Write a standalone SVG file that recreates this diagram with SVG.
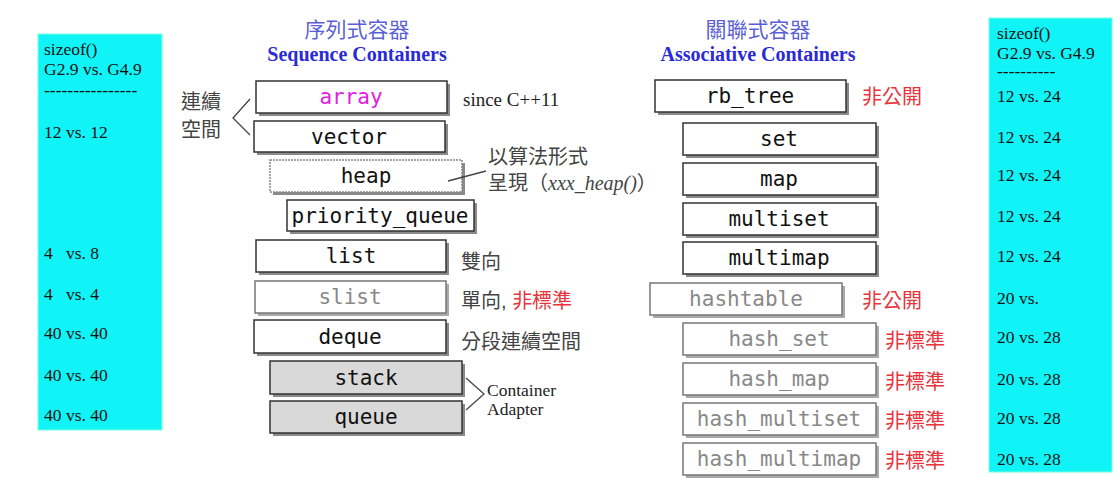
<svg xmlns="http://www.w3.org/2000/svg" width="1120" height="493" viewBox="0 0 1120 493">
<style>
.panel{fill:#10f4f8;stroke:#7fd;stroke-width:1}
.pt{font-family:"Liberation Serif",serif;font-size:17.5px;fill:#111}
.sh{fill:#8a8a8a}
.box{fill:#fff;stroke:#333;stroke-width:1.5}
.gbox{fill:#fff;stroke:#777;stroke-width:1.5}
.ad{fill:#d9d9d9;stroke:#333;stroke-width:1.5}
.mono{font-family:"DejaVu Sans Mono","Liberation Mono",monospace;font-size:21px;fill:#111;text-anchor:middle}
.gray{fill:#888}
.cjk{font-family:"Liberation Sans","Noto Sans CJK TC",sans-serif;font-size:20px;fill:#444}
.red{fill:#e8333a}
.ttl{font-family:"Noto Sans CJK TC",sans-serif;font-size:21px;fill:#5a5fd8;text-anchor:middle}
.sub{font-family:"Liberation Serif",serif;font-size:20px;font-weight:bold;fill:#2a2ad6;text-anchor:middle}
.ser{font-family:"Liberation Serif","Noto Sans CJK TC",serif;font-size:19px;fill:#222}
.ln{fill:none;stroke:#444;stroke-width:1.3}
</style>
<rect width="1120" height="493" fill="#fff"/>
<g id="panel-left">
<rect class="panel" x="38" y="34" width="124" height="396"/>
<text class="pt" x="44" y="55">sizeof()</text>
<text class="pt" x="44" y="75">G2.9 vs. G4.9</text>
<text class="pt" x="44" y="96">----------------</text>
<text class="pt" x="44" y="138">12 vs. 12</text>
<text class="pt" x="44" y="259" xml:space="preserve">4   vs. 8</text>
<text class="pt" x="44" y="300" xml:space="preserve">4   vs. 4</text>
<text class="pt" x="44" y="339">40 vs. 40</text>
<text class="pt" x="44" y="381">40 vs. 40</text>
<text class="pt" x="44" y="421">40 vs. 40</text>
</g>
<g id="panel-right">
<rect class="panel" x="989" y="18" width="123" height="454"/>
<text class="pt" x="997" y="39">sizeof()</text>
<text class="pt" x="997" y="59">G2.9 vs. G4.9</text>
<text class="pt" x="997" y="77">----------</text>
<text class="pt" x="997" y="102">12 vs. 24</text>
<text class="pt" x="997" y="143">12 vs. 24</text>
<text class="pt" x="997" y="181">12 vs. 24</text>
<text class="pt" x="997" y="222">12 vs. 24</text>
<text class="pt" x="997" y="262">12 vs. 24</text>
<text class="pt" x="997" y="304">20 vs.</text>
<text class="pt" x="997" y="343">20 vs. 28</text>
<text class="pt" x="997" y="385">20 vs. 28</text>
<text class="pt" x="997" y="424">20 vs. 28</text>
<text class="pt" x="997" y="465">20 vs. 28</text>
</g>
<g id="titles">
<text class="ttl" x="357" y="37">序列式容器</text>
<text class="sub" x="357" y="61">Sequence Containers</text>
<text class="ttl" x="758" y="37">關聯式容器</text>
<text class="sub" x="758" y="61">Associative Containers</text>
</g>
<g id="array"><rect class="sh" x="259" y="84" width="191" height="32"/><rect class="box" x="256" y="81" width="191" height="32"/><text class="mono" x="351" y="104" style="fill:#e020e0">array</text></g>
<g id="vector"><rect class="sh" x="257" y="124" width="191" height="31"/><rect class="box" x="254" y="121" width="191" height="31"/><text class="mono" x="349" y="144">vector</text></g>
<g id="heap"><rect class="sh" x="273" y="163" width="192" height="32"/><rect class="box" x="270" y="160" width="192" height="32" style="stroke:#888;stroke-dasharray:2 1"/><text class="mono" x="366" y="183">heap</text></g>
<g id="priority_queue"><rect class="sh" x="290" y="203" width="187" height="31"/><rect class="box" x="287" y="200" width="187" height="31"/><text class="mono" x="380" y="223">priority_queue</text></g>
<g id="list"><rect class="sh" x="259" y="243" width="190" height="32"/><rect class="box" x="256" y="240" width="190" height="32"/><text class="mono" x="351" y="263">list</text></g>
<g id="slist"><rect class="sh" x="258" y="284" width="191" height="32" style="fill:#aaa"/><rect class="gbox" x="255" y="281" width="191" height="32"/><text class="mono gray" x="350" y="304">slist</text></g>
<g id="deque"><rect class="sh" x="257" y="323" width="192" height="33"/><rect class="box" x="254" y="320" width="192" height="33"/><text class="mono" x="350" y="344">deque</text></g>
<g id="stack"><rect class="sh" x="273" y="364" width="192" height="33"/><rect class="ad" x="270" y="361" width="192" height="33"/><text class="mono" x="366" y="385">stack</text></g>
<g id="queue"><rect class="sh" x="273" y="404" width="192" height="32"/><rect class="ad" x="270" y="401" width="192" height="32"/><text class="mono" x="366" y="424">queue</text></g>
<g id="rb_tree"><rect class="sh" x="658" y="83" width="191" height="32"/><rect class="box" x="655" y="80" width="191" height="32"/><text class="mono" x="750" y="103">rb_tree</text></g>
<g id="set"><rect class="sh" x="686" y="126" width="193" height="32"/><rect class="box" x="683" y="123" width="193" height="32"/><text class="mono" x="779" y="146">set</text></g>
<g id="map"><rect class="sh" x="686" y="166" width="193" height="32"/><rect class="box" x="683" y="163" width="193" height="32"/><text class="mono" x="779" y="186">map</text></g>
<g id="multiset"><rect class="sh" x="686" y="206" width="193" height="32"/><rect class="box" x="683" y="203" width="193" height="32"/><text class="mono" x="779" y="226">multiset</text></g>
<g id="multimap"><rect class="sh" x="686" y="245" width="193" height="32"/><rect class="box" x="683" y="242" width="193" height="32"/><text class="mono" x="779" y="265">multimap</text></g>
<g id="hashtable"><rect class="sh" x="653" y="286" width="192" height="32" style="fill:#aaa"/><rect class="gbox" x="650" y="283" width="192" height="32"/><text class="mono gray" x="746" y="306">hashtable</text></g>
<g id="hash_set"><rect class="sh" x="686" y="326" width="193" height="32" style="fill:#aaa"/><rect class="gbox" x="683" y="323" width="193" height="32"/><text class="mono gray" x="779" y="346">hash_set</text></g>
<g id="hash_map"><rect class="sh" x="686" y="366" width="193" height="32" style="fill:#aaa"/><rect class="gbox" x="683" y="363" width="193" height="32"/><text class="mono gray" x="779" y="386">hash_map</text></g>
<g id="hash_multiset"><rect class="sh" x="686" y="406" width="193" height="32" style="fill:#aaa"/><rect class="gbox" x="683" y="403" width="193" height="32"/><text class="mono gray" x="779" y="426">hash_multiset</text></g>
<g id="hash_multimap"><rect class="sh" x="686" y="446" width="193" height="32" style="fill:#aaa"/><rect class="gbox" x="683" y="443" width="193" height="32"/><text class="mono gray" x="779" y="466">hash_multimap</text></g>
<g id="connectors">
<polyline class="ln" points="250,99 233,118 250,135"/>
<line class="ln" x1="448" y1="181" x2="486" y2="171"/>
<polyline class="ln" points="466,378 484,394 466,410"/>
</g>
<g id="labels">
<text class="cjk" x="181" y="109">連續</text>
<text class="cjk" x="181" y="137">空間</text>
<text class="ser" x="463" y="106">since C++11</text>
<text class="cjk" x="488" y="164">以算法形式</text>
<text class="cjk" x="488" y="190">呈現（<tspan font-family="Liberation Serif" font-style="italic">xxx_heap()</tspan>）</text>
<text class="cjk" x="461" y="269">雙向</text>
<text class="cjk" x="461" y="308">單向, <tspan class="red">非標準</tspan></text>
<text class="cjk" x="461" y="349">分段連續空間</text>
<text class="ser" x="487" y="396" style="font-size:17.5px">Container</text>
<text class="ser" x="487" y="415" style="font-size:17.5px">Adapter</text>
<text class="cjk red" x="862" y="104">非公開</text>
<text class="cjk red" x="862" y="308">非公開</text>
<text class="cjk red" x="885" y="348">非標準</text>
<text class="cjk red" x="885" y="389">非標準</text>
<text class="cjk red" x="885" y="428">非標準</text>
<text class="cjk red" x="885" y="468">非標準</text>
</g>
</svg>
